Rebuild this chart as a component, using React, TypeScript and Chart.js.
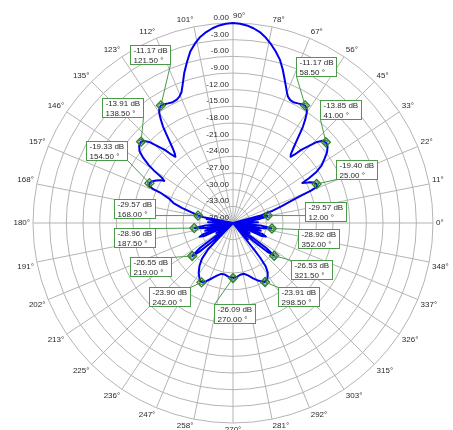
import { useEffect, useRef } from 'react';
import { Chart, registerables } from 'chart.js';

Chart.register(...registerables);

// ---------- data ----------
const spokeLabels = [
  '0°', '11°', '22°', '33°', '45°', '56°', '67°', '78°',
  '90°', '101°', '112°', '123°', '135°', '146°', '157°', '168°',
  '180°', '191°', '202°', '213°', '225°', '236°', '247°', '258°',
  '270°', '281°', '292°', '303°', '315°', '326°', '337°', '348°',
];

const dbTicks = [0, -3, -6, -9, -12, -15, -18, -21, -24, -27, -30, -33, -36];

// measured pattern: angle (deg, CCW from 0° at right) and gain (dB)
const patternAngles = [
  0, 1.5, 3, 5, 7, 9, 10.5, 12, 13, 14, 15, 17, 19, 21, 22, 22.5, 23.5, 25, 26.5, 28,
  29, 30, 30.5, 31.5, 33, 35, 37, 39, 41, 42.5, 44, 45.5, 47, 48, 49, 50, 51, 52, 53, 54,
  55, 56, 57, 58.5, 60, 61.5, 63.5, 65, 66.5, 67.5, 69, 70.5, 72, 74, 76, 78, 80, 82, 84, 86,
  88, 90, 92, 94, 96, 98, 100, 102, 104, 106, 108, 110, 111.5, 113, 114.5, 116.5, 118.5, 120, 121.5, 123,
  124, 125, 126, 127, 128, 129, 130, 131, 132, 133, 134.5, 136, 137.5, 138.5, 140.5, 142.5, 144, 145.5, 146.5, 147.5,
  148.5, 149.5, 151, 152.5, 154.5, 156, 157, 157.5, 159, 161.5, 163.5, 165.5, 167, 168, 169, 170, 171.5, 173, 175, 177,
  178.5, 180, 182, 185, 187.5, 190.5, 192, 194, 195.5, 197, 199, 200.5, 202.5, 204.5, 207, 211, 215, 217, 219, 220.5,
  222, 224.5, 226.5, 229, 232, 235.5, 239, 242, 245, 249, 253, 257, 261, 265, 270, 274, 278, 282, 286, 290,
  294, 298.5, 302, 305, 307, 308, 308.5, 309.5, 312, 315, 318.5, 320, 321.5, 323, 325, 329, 333, 335.5, 337.5, 339.5,
  341, 343, 344.5, 346, 348, 349.5, 352, 355, 358,
];
const patternGains = [
  -33.5, -31.5, -33, -36, -33, -31, -30, -29.57, -31, -36, -31, -28.8, -26.8, -24.5, -22.5, -20.8, -19.5, -19.4, -19.7, -20.4,
  -21.1, -21.6, -20.2, -18.4, -17.0, -15.9, -14.8, -14.1, -13.85, -14.1, -15.0, -16.6, -18.0, -19.4, -20.2, -19.8, -18.8, -17.6, -16.2, -14.6,
  -13.4, -12.3, -11.6, -11.17, -11.3, -11.5, -11.7, -11.6, -11.2, -10.6, -9.5, -8.3, -7.0, -5.4, -4.2, -3.1, -2.1, -1.3, -0.75, -0.35,
  -0.1, 0, -0.1, -0.35, -0.75, -1.3, -2.0, -3.0, -4.2, -5.9, -7.6, -9.5, -10.7, -11.3, -11.6, -11.7, -11.5, -11.3, -11.17, -11.6,
  -12.3, -13.4, -14.6, -16.2, -17.6, -18.8, -19.7, -20.2, -19.4, -18.0, -16.6, -15.0, -14.1, -13.91, -14.1, -14.8, -16.0, -17.6, -19.0, -20.8,
  -21.5, -20.8, -20.2, -19.7, -19.33, -19.5, -20.4, -22.0, -23.6, -24.7, -26.4, -28.2, -29.2, -29.57, -30.6, -36, -31.2, -33, -36, -33,
  -31.5, -33.5, -36, -31, -28.96, -31, -36, -31.8, -30.8, -31.8, -36, -30.4, -29.5, -30.5, -36, -32.5, -36, -28.6, -26.55, -28,
  -31, -36, -29.5, -27.5, -26.2, -25.1, -24.3, -23.90, -24.4, -25.3, -26.1, -26.6, -26.6, -26.3, -26.09, -26.25, -26.6, -26.65, -26.2, -25.4,
  -24.6, -23.91, -24.3, -25.1, -26.2, -28.0, -30, -36, -32, -36, -31, -28, -26.53, -28.5, -36, -32.5, -36, -30.5, -29.6, -30.4,
  -36, -31.8, -30.8, -31.8, -36, -31, -28.92, -31, -36,
];

// peak markers
const markerAngles = [58.5, 41, 25, 121.5, 138.5, 154.5, 168, 187.5, 219, 242, 270, 298.5, 321.5, 352, 12];
const markerGains = [-11.17, -13.85, -19.40, -11.17, -13.91, -19.33, -29.57, -28.96, -26.55, -23.90, -26.09, -23.91, -26.53, -28.92, -29.57];

// ---------- layout (label box offsets from marker, px) ----------
const boxOffsets = [
  [-9, -48], [-6, -42.5], [19, -24], [-31, -60.7], [-39, -43.7], [-63, -41.7], [-84.4, -17],
  [-80, 0], [-62.5, 1], [-52.4, 4.7], [-19, 26], [13, 5], [17, 4], [26, 1], [37.5, -14],
];

const STEP = 0.25;
const SLOTS = Math.round(360 / STEP);
const slotOf = (deg: number) => Math.round(((((90 - deg) % 360) + 360) % 360) / STEP) % SLOTS;

const FONT = '8px "Liberation Sans", Arial, sans-serif';
const TEXT = '#2a2a2a';
const GRID = '#b4b4b4';
const BOX = '#4a9a4a';

const polarDecor = {
  id: 'polarDecor',
  beforeDatasetsDraw(chart: any) {
    const s = chart.scales.r;
    const ctx = chart.ctx as CanvasRenderingContext2D;
    ctx.save();
    ctx.font = FONT;
    ctx.fillStyle = TEXT;
    ctx.textAlign = 'right';
    ctx.textBaseline = 'alphabetic';
    dbTicks.forEach((v) => {
      const d = s.getDistanceFromCenterForValue(v);
      ctx.fillText(v.toFixed(2), s.xCenter - 4, s.yCenter - d - 3);
    });
    spokeLabels.forEach((lab, k) => {
      const th = (k * 360) / spokeLabels.length;
      const p = s.getPointPosition(slotOf(th), s.drawingArea + 3);
      const c = Math.cos((th * Math.PI) / 180);
      const sn = Math.sin((th * Math.PI) / 180);
      ctx.textAlign = c > 0.05 ? 'left' : c < -0.05 ? 'right' : sn > 0 ? 'left' : 'center';
      ctx.textBaseline = sn > 0.05 ? 'bottom' : sn < -0.05 ? 'top' : 'middle';
      ctx.fillText(lab, p.x, p.y);
    });
    ctx.restore();
  },
  afterDatasetsDraw(chart: any) {
    const ctx = chart.ctx as CanvasRenderingContext2D;
    const meta = chart.getDatasetMeta(0);
    ctx.save();
    ctx.font = FONT;
    markerAngles.forEach((th, m) => {
      const pt = meta.data[slotOf(th)];
      if (!pt) return;
      const x = pt.x;
      const y = pt.y;
      const l1 = markerGains[m].toFixed(2) + ' dB';
      const l2 = th.toFixed(2) + ' °';
      const w = Math.round(Math.max(ctx.measureText(l1).width, ctx.measureText(l2).width) + 6);
      const h = 19;
      const bx = Math.round(x + boxOffsets[m][0]) + 0.5;
      const by = Math.round(y + boxOffsets[m][1]) + 0.5;
      let tx: number;
      let ty: number;
      if (y >= by && y <= by + h) {
        ty = y;
        tx = x < bx ? bx : bx + w;
      } else {
        ty = y < by ? by : by + h;
        tx = Math.abs(x - bx) < Math.abs(x - (bx + w)) ? bx : bx + w;
      }
      ctx.strokeStyle = BOX;
      ctx.lineWidth = 1;
      ctx.beginPath();
      ctx.moveTo(x, y);
      ctx.lineTo(tx, ty);
      ctx.stroke();
      ctx.fillStyle = '#ffffff';
      ctx.fillRect(bx, by, w, h);
      ctx.strokeRect(bx, by, w, h);
      ctx.fillStyle = TEXT;
      ctx.textAlign = 'left';
      ctx.textBaseline = 'alphabetic';
      ctx.fillText(l1, bx + 3, by + 7.5);
      ctx.fillText(l2, bx + 3, by + 17);
      // inner ring of the marker
      ctx.strokeStyle = '#2b7d2b';
      ctx.beginPath();
      ctx.arc(x, y, 2.2, 0, Math.PI * 2);
      ctx.stroke();
    });
    ctx.restore();
  },
};

export default function App() {
  const ref = useRef<HTMLCanvasElement>(null);
  useEffect(() => {
    const curve: (number | null)[] = new Array(SLOTS).fill(null);
    patternAngles.forEach((a, k) => {
      curve[slotOf(a)] = patternGains[k];
    });
    const marks: (number | null)[] = new Array(SLOTS).fill(null);
    markerAngles.forEach((a, k) => {
      marks[slotOf(a)] = markerGains[k];
    });
    const labels: string[] = new Array(SLOTS).fill('');
    spokeLabels.forEach((s, k) => {
      labels[slotOf((k * 360) / spokeLabels.length)] = s;
    });

    const chart = new Chart(ref.current as HTMLCanvasElement, {
      type: 'radar',
      data: {
        labels,
        datasets: [
          {
            data: marks,
            order: 0,
            showLine: false,
            spanGaps: true,
            pointStyle: 'rectRot',
            pointRadius: 4.5,
            pointBorderWidth: 1.3,
            pointBorderColor: '#2b7d2b',
            pointBackgroundColor: 'rgba(0,0,0,0)',
            fill: false,
          } as any,
          {
            data: curve,
            order: 1,
            spanGaps: true,
            borderColor: '#0000ee',
            borderWidth: 2,
            borderJoinStyle: 'round',
            pointRadius: 0,
            tension: 0,
            fill: false,
          } as any,
        ],
      },
      options: {
        animation: false,
        responsive: false,
        events: [],
        layout: { padding: { left: 33, right: 20, top: 23, bottom: 7 } },
        plugins: { legend: { display: false }, tooltip: { enabled: false } },
        scales: {
          r: {
            type: 'radialLinear',
            min: -36,
            max: 0,
            startAngle: 0,
            afterBuildTicks: (scale: any) => {
              scale.ticks = dbTicks.map((v) => ({ value: v }));
            },
            ticks: { display: false },
            grid: { circular: true, color: GRID, lineWidth: 1 },
            angleLines: {
              display: true,
              color: GRID,
              lineWidth: (c: any) => (labels[c.index] ? 1 : 0),
            },
            pointLabels: { display: false },
          } as any,
        },
      },
      plugins: [polarDecor],
    });
    return () => chart.destroy();
  }, []);
  return (
    <div style={{ position: 'fixed', left: 0, top: 0, width: 453, height: 430, background: '#fff' }}>
      <canvas ref={ref} width={453} height={430} style={{ display: 'block', width: 453, height: 430 }} />
    </div>
  );
}
